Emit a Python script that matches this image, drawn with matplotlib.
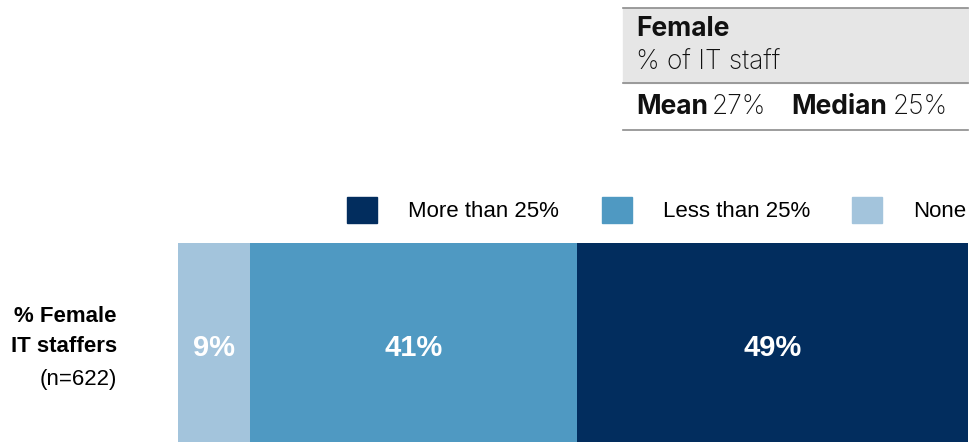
import matplotlib
matplotlib.use('Agg')
import matplotlib.pyplot as plt
from matplotlib.patches import Rectangle

# share of companies by female IT staff share
categories = ["None", "Less than 25%", "More than 25%"]
shares = [9, 41, 49]
colors = {"None": "#a3c4dc", "Less than 25%": "#4f99c2", "More than 25%": "#022d5e"}
legend_order = ["More than 25%", "Less than 25%", "None"]

mean_pct = 27
median_pct = 25
n_resp = 622

W, H = 969, 442
fig = plt.figure(figsize=(W / 100, H / 100), dpi=100)

def fx(px):
    return px / W

def fy(py):
    return 1 - py / H

# stacked bar
ax = fig.add_axes([fx(178), 0, fx(968) - fx(178), fy(243)])
left = 0
for cat, val in zip(categories, shares):
    ax.barh(0, val, left=left, height=1.0, color=colors[cat], edgecolor="none")
    ax.text(left + val / 2, -0.03, f"{val}%", ha="center", va="center",
            color="white", fontsize=21, fontweight="bold", family="Liberation Sans")
    left += val
ax.set_xlim(0, sum(shares))
ax.set_ylim(-0.5, 0.5)
ax.axis("off")

# row label
lab = dict(family="Liberation Sans", fontsize=16, ha="right", va="center")
fig.text(fx(117), fy(317), "% Female", fontweight="bold", **lab)
fig.text(fx(117), fy(347), "IT staffers", fontweight="bold", **lab)
fig.text(fx(117), fy(379), f"(n={n_resp})", **lab)

# legend
for i, cat in enumerate(legend_order):
    x0 = [347, 602, 852][i]
    fig.patches.append(Rectangle((fx(x0), fy(223)), fx(30), fy(197) - fy(223),
                                 transform=fig.transFigure, color=colors[cat]))
    fig.text(fx(x0 + 61), fy(211), cat, family="Liberation Sans", fontsize=16,
             ha="left", va="center")

# summary box
fig.patches.append(Rectangle((fx(623), fy(83)), fx(968) - fx(623), fy(8) - fy(83),
                             transform=fig.transFigure, color="#e6e6e6", zorder=0))
for yl in [8, 83, 130]:
    fig.add_artist(plt.Line2D([fx(623), fx(968)], [fy(yl), fy(yl)],
                              transform=fig.transFigure, color="#8c8c8c", lw=1.2))
box = dict(family="Inter", fontsize=19, va="center", ha="left", color="#111111")
fig.text(fx(636), fy(29), "Female", fontweight="bold", **box)
fig.text(fx(636), fy(63), "% of IT staff", fontweight="light", **box)
fig.text(fx(636), fy(107), "Mean", fontweight="bold", **box)
fig.text(fx(712), fy(107), f"{mean_pct}%", fontweight="light", **box)
fig.text(fx(791), fy(107), "Median", fontweight="bold", **box)
fig.text(fx(893), fy(107), f"{median_pct}%", fontweight="light", **box)

fig.savefig("out.png", dpi=100)
